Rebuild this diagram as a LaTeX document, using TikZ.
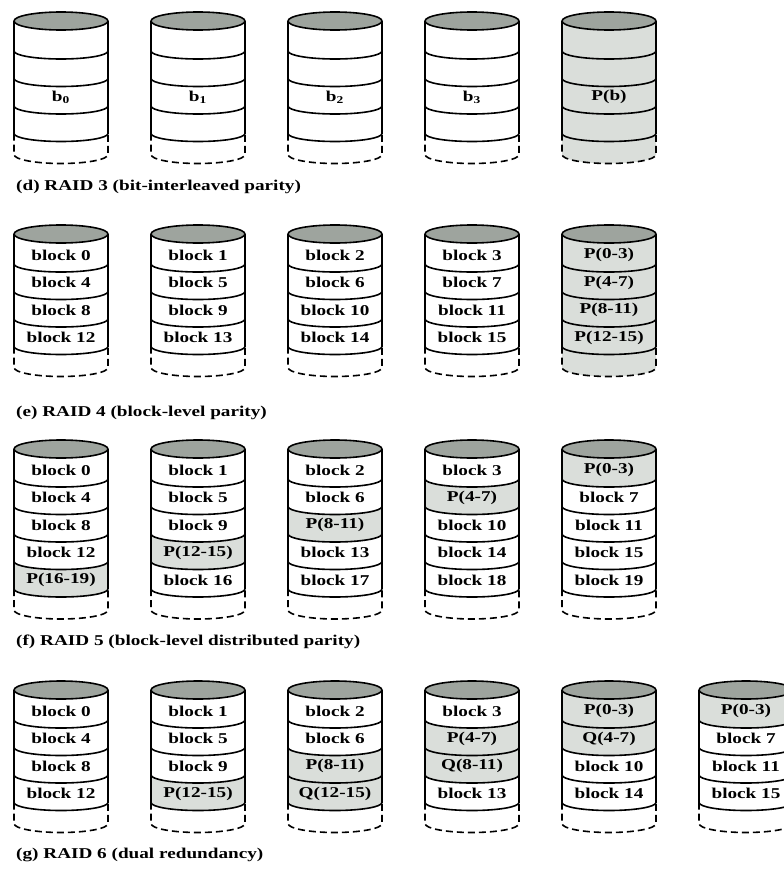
\documentclass[tikz,border=0pt]{standalone}
\usepackage{fontspec}
\setmainfont{Liberation Serif}
\usepackage{graphicx}

\definecolor{topgray}{RGB}{158,164,158}
\definecolor{parity}{RGB}{218,222,218}

\tikzset{
  disk line/.style={line width=1.6pt, line join=round},
  disk dash/.style={disk line, dash pattern=on 7pt off 4pt},
  disk text/.style={font=\bfseries\fontsize{15}{18}\selectfont, inner sep=0pt},
  caption/.style={disk text, anchor=west},
}

% wide bold lettering
\newcommand\wide[1]{\scalebox{1.28}[1]{#1}}

% lower half of an ellipse of half-width 47: centre x, edge y, sag
\newcommand\arcLR[3]{.. controls ({#1-47},{#2+0.5523*#3}) and ({#1-25.96},{#2+#3}) .. ({#1},{#2+#3}) .. controls ({#1+25.96},{#2+#3}) and ({#1+47},{#2+0.5523*#3}) .. ({#1+47},{#2})}
\newcommand\arcRL[3]{.. controls ({#1+47},{#2+0.5523*#3}) and ({#1+25.96},{#2+#3}) .. ({#1},{#2+#3}) .. controls ({#1-25.96},{#2+#3}) and ({#1-47},{#2+0.5523*#3}) .. ({#1-47},{#2})}

% one disk: #1 name, #2 centre x, #3 y of top, #4 bands shade/label, #5 shade the dashed part
\newcommand\disk[5]{%
  \foreach \s/\lbl [count=\k] in {#4} {\xdef\nbands{\k}}
  \pgfmathsetmacro\ylast{#3+30+27.5*(\nbands-1)}
  \pgfmathsetmacro\ybot{\ylast+21}
  \foreach \s/\lbl [count=\k] in {#4} {
    \ifnum\s=1
      \pgfmathsetmacro\yb{#3+30+27.5*(\k-1)}
      \ifnum\k=1
        \fill[parity] ({#2-47},#3) \arcLR{#2}{#3}{9} -- ({#2+47},\yb) \arcRL{#2}{\yb}{8} -- cycle;
      \else
        \pgfmathsetmacro\ya{\yb-27.5}
        \fill[parity] ({#2-47},\ya) \arcLR{#2}{\ya}{8} -- ({#2+47},\yb) \arcRL{#2}{\yb}{8} -- cycle;
      \fi
    \fi
  }
  \ifnum#5=1
    \fill[parity] ({#2-47},\ylast) \arcLR{#2}{\ylast}{8} -- ({#2+47},\ybot) \arcRL{#2}{\ybot}{9} -- cycle;
  \fi
  \draw[disk line] ({#2-47},#3) -- ({#2-47},\ylast);
  \draw[disk line] ({#2+47},#3) -- ({#2+47},\ylast);
  \draw[disk dash] ({#2-47},\ylast) -- ({#2-47},\ybot) \arcLR{#2}{\ybot}{9} -- ({#2+47},\ylast);
  \draw[disk line, fill=topgray] (#2,#3) ellipse [x radius=47, y radius=9];
  \foreach \k in {1,...,\nbands} {
    \pgfmathsetmacro\yd{#3+30+27.5*(\k-1)}
    \draw[disk line] ({#2-47},\yd) \arcLR{#2}{\yd}{8};
  }
  \foreach \s/\lbl [count=\k] in {#4} {
    \node[disk text] (#1-\k) at (#2,{#3+21+27.5*(\k-1)}) {\wide{\lbl}};
  }
}

\begin{document}
\begin{tikzpicture}[x=1pt, y=-1pt]
\useasboundingbox (0,0) rectangle (784,870);
\clip (0,0) rectangle (784,870);
\fill[white] (0,0) rectangle (784,870);

% (d) RAID 3
\disk{d0}{61}{21}{0/,0/,0/b\textsubscript{0},0/}{0}
\disk{d1}{198}{21}{0/,0/,0/b\textsubscript{1},0/}{0}
\disk{d2}{335}{21}{0/,0/,0/b\textsubscript{2},0/}{0}
\disk{d3}{472}{21}{0/,0/,0/b\textsubscript{3},0/}{0}
\disk{d4}{609}{21}{1/,1/,1/P(b),1/}{1}
\node[caption] (capd) at (16,187) {\wide{(d) RAID 3 (bit-interleaved parity)}};

% (e) RAID 4
\disk{e0}{61}{234}{0/block 0,0/block 4,0/block 8,0/block 12}{0}
\disk{e1}{198}{234}{0/block 1,0/block 5,0/block 9,0/block 13}{0}
\disk{e2}{335}{234}{0/block 2,0/block 6,0/block 10,0/block 14}{0}
\disk{e3}{472}{234}{0/block 3,0/block 7,0/block 11,0/block 15}{0}
\disk{e4}{609}{234}{1/P(0-3),1/P(4-7),1/P(8-11),1/P(12-15)}{1}
\node[caption] (cape) at (16,413) {\wide{(e) RAID 4 (block-level parity)}};

% (f) RAID 5
\disk{f0}{61}{449}{0/block 0,0/block 4,0/block 8,0/block 12,1/P(16-19)}{0}
\disk{f1}{198}{449}{0/block 1,0/block 5,0/block 9,1/P(12-15),0/block 16}{0}
\disk{f2}{335}{449}{0/block 2,0/block 6,1/P(8-11),0/block 13,0/block 17}{0}
\disk{f3}{472}{449}{0/block 3,1/P(4-7),0/block 10,0/block 14,0/block 18}{0}
\disk{f4}{609}{449}{1/P(0-3),0/block 7,0/block 11,0/block 15,0/block 19}{0}
\node[caption] (capf) at (16,642) {\wide{(f) RAID 5 (block-level distributed parity)}};

% (g) RAID 6
\disk{g0}{61}{690}{0/block 0,0/block 4,0/block 8,0/block 12}{0}
\disk{g1}{198}{690}{0/block 1,0/block 5,0/block 9,1/P(12-15)}{0}
\disk{g2}{335}{690}{0/block 2,0/block 6,1/P(8-11),1/Q(12-15)}{0}
\disk{g3}{472}{690}{0/block 3,1/P(4-7),1/Q(8-11),0/block 13}{0}
\disk{g4}{609}{690}{1/P(0-3),1/Q(4-7),0/block 10,0/block 14}{0}
\disk{g5}{746}{690}{1/P(0-3),0/block 7,0/block 11,0/block 15}{0}
\node[caption] (capg) at (16,855) {\wide{(g) RAID 6 (dual redundancy)}};
\end{tikzpicture}
\end{document}
